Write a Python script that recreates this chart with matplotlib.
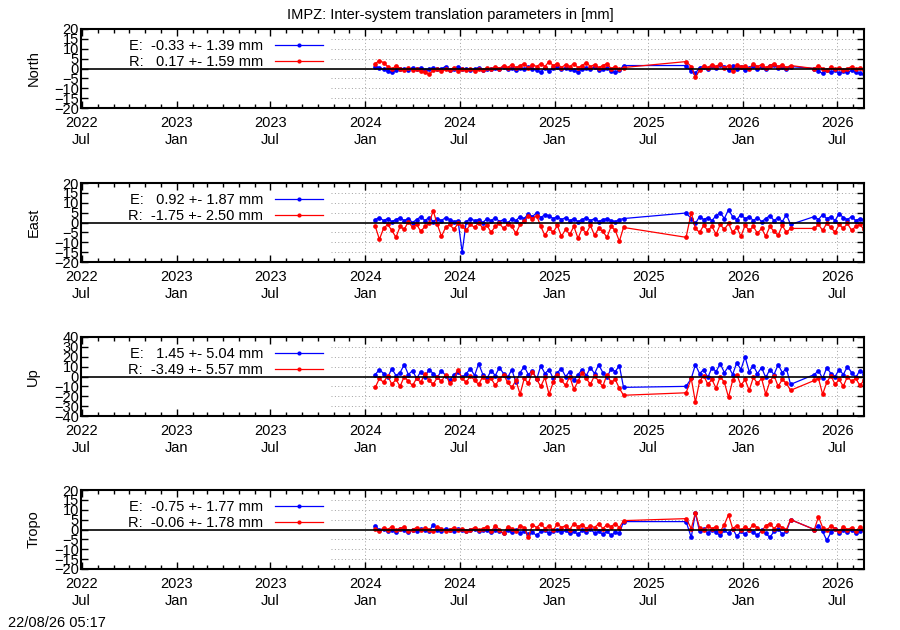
import numpy as np
import pandas as pd
import matplotlib
matplotlib.use("Agg")
import matplotlib.pyplot as plt
import matplotlib.dates as mdates

plt.rcParams['font.family'] = ['Liberation Sans', 'DejaVu Sans']
FS = 10.5

# epochs: three blocks of solutions (8-day sampling) plus one lone day in the gap
dates = np.concatenate([
    pd.date_range('2024-01-20', '2025-05-20', freq='8D').values,
    pd.to_datetime(['2025-09-12']).values,
    pd.date_range('2025-09-22', '2026-04-06', freq='8D').values,
    pd.date_range('2026-05-18', '2026-08-22', freq='8D').values,
])

panels = ['North', 'East', 'Up', 'Tropo']

# values in mm, E = Galileo, R = GLONASS
north_e = [1.0, 0.5, -0.5, -1.5, -2.0, -1.0, -0.5, 0.0, -1.0, 0.5,
           -0.5, 0.5, -1.0, -0.5, 0.5, -0.5, 0.0, 1.0, -1.0, 0.0,
           1.0, -0.5, 0.0, -1.0, -0.5, 0.5, -1.0, 0.0, -0.5, 0.5,
           0.0, 1.0, -0.5, 0.5, -1.0, 0.5, -0.5, 1.0, 0.0, -1.0,
           -2.0, 0.5, -1.5, 0.5, 1.0, -0.5, 0.5, 0.0, -1.0, -2.0,
           0.0, 0.5, -0.5, 1.0, -1.0, -0.5, 0.5, -1.5, -2.0, -1.0,
           1.5,
           1.5,
           -1.5, -2.5, 0.5, 1.0, -0.5, 1.5, 0.5, 2.0, 1.0, -1.0,
           1.5, 0.0, 1.0, -1.0, 0.5, 1.5, -0.5, 1.0, 0.0, 1.5,
           2.0, 0.5, 1.0, 0.0, 1.0,
           0.0, -1.5, -2.5, -1.0, -2.0, -1.0, -2.5, -1.5, -2.0, -1.0,
           -2.0, -2.5, -3.0]
north_r = [2.5, 4.0, 3.0, 1.0, -0.5, 1.5, 0.0, -1.0, 0.5, -1.0,
           0.0, -1.5, -2.0, -3.0, -1.0, 0.0, -1.5, -0.5, -1.0, 0.5,
           -1.5, -0.5, -1.0, 0.0, -1.5, -0.5, -1.0, 0.5, -0.5, 1.0,
           0.0, 1.5, 0.5, 2.0, 0.5, 1.5, 2.5, 0.5, 2.0, 1.0,
           2.5, 1.0, 3.5, 1.5, 2.5, 0.5, 2.0, 1.0, 2.5, 0.5,
           1.5, 3.0, 1.0, 2.0, 0.5, 1.5, 2.5, 0.0, 1.0, -0.5,
           0.5,
           3.5,
           1.0, -4.5, -1.0, 1.5, 0.5, 2.0, 1.0, 2.5, 0.5, 1.5,
           -1.5, 2.0, 1.0, 1.5, 0.0, 2.5, 1.0, 2.0, 0.5, 1.5,
           2.5, 1.0, 2.0, 0.5, 1.5,
           0.0, 1.5, 0.0, -1.0, 1.0, -0.5, 0.5, -1.0, 0.0, 1.0,
           -0.5, 0.5, -1.0]
east_e = [1.5, 2.5, 1.0, 2.0, 0.5, 1.5, 2.5, 1.0, 2.0, 0.0,
          1.5, 3.0, 1.0, 2.5, 0.5, 2.0, 1.0, 2.5, 1.5, 0.5,
          1.0, -15.0, 0.5, 2.0, 1.0, 1.5, 0.0, 2.0, 1.0, 2.5,
          0.5, 1.5, -0.5, 2.0, 1.0, 3.0, 2.0, 4.5, 3.0, 5.0,
          2.5, 4.0, 3.5, 2.0, 3.0, 1.5, 2.5, 1.0, 2.0, 0.5,
          1.5, 2.5, 1.0, 2.0, 0.5, 1.5, 2.0, 1.0, 0.5, 1.5,
          2.0,
          4.8,
          2.0, -0.5, 3.0, 1.5, 2.5, 1.0, 3.5, 5.0, 2.0, 6.5,
          3.0, 1.5, 4.0, 2.0, 3.0, 1.0, 2.5, 0.5, 2.0, 3.5,
          1.0, 2.5, 0.5, 4.0, -1.0,
          3.0, 1.5, 4.0, 2.0, 3.0, 1.0, 4.5, 2.5, 1.5, 3.0,
          1.0, 2.0, 1.5]
east_r = [-2.0, -8.5, -3.0, -1.0, -4.0, -7.5, -2.0, -3.5, 0.5, -2.5,
          -1.0, -4.5, -2.0, -0.5, 6.0, -1.0, -7.0, -2.5, -1.0, -3.5,
          -0.5, -2.0, -4.0, -1.0, -2.5, 0.0, -3.0, -1.5, -5.0, -2.0,
          -0.5, -3.0, -1.0, -2.0, -5.5, -1.0, 1.0, 3.5, 2.0, 3.5,
          -2.0, -6.5, -3.0, -5.0, -1.5, -7.0, -3.5, -6.0, -2.0, -8.0,
          -3.0, -5.5, -1.5, -6.5, -3.0, -4.5, -7.5, -2.0, -4.0, -9.5,
          -2.5,
          -7.5,
          5.0, -3.0, -5.0, -1.5, -4.0, -2.0, -6.0, -1.0, -3.5, -0.5,
          -5.0, -2.5, -7.0, -1.5, -4.0, -2.0, -5.5, -3.0, -7.0, -2.0,
          -4.5, -6.5, -1.5, -5.0, -3.0,
          -3.0, -1.0, -4.0, -0.5, -2.5, -5.0, -1.0, -3.0, -0.5, -4.0,
          -2.0, -1.0, -3.5]
up_e = [2.0, 7.0, 3.0, -1.0, 8.0, 1.0, 4.0, 12.0, 2.0, 6.0,
        -2.0, 5.0, 0.0, 7.0, 3.0, -1.0, 6.0, 1.0, -4.0, 2.0,
        5.0, -1.0, 3.0, 8.0, 1.0, 13.0, 2.0, -2.0, 6.0, 1.0,
        9.0, 3.0, -1.0, 7.0, -6.0, 4.0, 10.0, 2.0, 6.0, -3.0,
        11.0, 3.0, 7.0, -2.0, 4.0, 8.0, 0.0, 5.0, -4.0, 2.0,
        7.0, 1.0, 9.0, 3.0, 12.0, 4.0, -1.0, 8.0, 5.0, 11.0,
        -11.0,
        -10.0,
        -2.0, 12.0, 3.0, 7.0, -1.0, 9.0, 5.0, 13.0, 4.0, 10.0,
        2.0, 14.0, 7.0, 20.0, 5.0, 11.0, 3.0, 9.0, -1.0, 7.0,
        2.0, 12.0, 4.0, 8.0, -8.0,
        2.0, 6.0, -2.0, 9.0, 3.0, 0.0, 7.0, 2.0, 10.0, 4.0,
        -1.0, 6.0, 3.0]
up_r = [-11.0, -2.0, -6.0, 1.0, -8.0, -3.0, -10.0, 0.0, -5.0, -9.0,
        -2.0, -6.0, 3.0, -4.0, -8.0, -1.0, -5.0, 2.0, -7.0, -3.0,
        7.0, -2.0, -6.0, 1.0, -4.0, -8.0, 0.0, -5.0, -2.0, -9.0,
        -3.0, 2.0, -6.0, -11.0, -4.0, -18.0, -2.0, -7.0, 5.0, -3.0,
        -10.0, -1.0, -18.0, -6.0, 2.0, -4.0, -9.0, 0.0, -13.0, -5.0,
        4.0, -2.0, -8.0, 1.0, -5.0, -10.0, 2.0, -6.0, -3.0, -12.0,
        -19.0,
        -16.5,
        -2.0, -26.0, -5.0, 1.0, -8.0, -3.0, -12.0, 0.0, -6.0, -21.0,
        -4.0, 2.0, -9.0, -3.0, -14.0, -1.0, -7.0, -2.0, -18.0, -5.0,
        1.0, -10.0, -3.0, -7.0, -14.0,
        -4.0, -2.0, -18.0, -6.0, 1.0, -8.0, -3.0, -10.0, 0.0, -5.0,
        -2.0, -9.0, -4.0]
tropo_e = [2.0, -0.5, 0.5, -1.0, 0.0, -1.5, 0.5, -0.5, -1.5, 0.0,
           -1.0, 0.5, -0.5, -1.0, 2.5, 0.0, -1.0, 0.5, -0.5, -1.0,
           0.5, 0.0, -1.0, -0.5, 0.5, -1.0, 0.0, -0.5, -1.5, 0.0,
           -1.0, -2.0, -0.5, -1.5, -0.5, -2.0, -1.0, -2.5, -1.5, -3.0,
           -1.0, -0.5, -2.0, -1.0, 0.0, -1.5, -0.5, -2.0, -1.0, -2.5,
           -0.5, -1.5, 0.5, -2.0, -1.0, -2.5, -1.0, -3.0, -1.5, -2.0,
           4.0,
           4.0,
           -4.0, 8.5, -1.0, 0.5, -2.0, 0.0, -1.5, -3.0, -0.5, -2.0,
           0.5, -3.5, -1.0, -2.5, 0.0, -1.5, -3.0, -0.5, -2.0, -4.0,
           -1.0, 0.5, -2.5, -1.0, 5.0,
           0.0, 2.0, -1.0, -5.5, -1.5, 0.5, -2.0, -0.5, -1.5, 0.0,
           -2.0, -1.0, -0.5]
tropo_r = [0.5, -1.0, 1.0, 0.0, 1.5, -0.5, 0.5, 1.5, -1.0, 0.0,
           1.0, -0.5, 1.0, 0.0, -1.0, 1.5, 0.5, -1.0, 0.0, 1.0,
           -0.5, 0.5, -1.0, 0.0, 1.0, -0.5, 0.5, 1.5, -1.0, 2.0,
           0.0, -2.0, 1.5, 0.5, -1.0, 2.0, 1.0, -4.0, 2.5, 1.0,
           3.0, 0.5, 2.0, -0.5, 3.0, 1.0, 2.0, 0.0, 3.0, 1.5,
           2.5, 0.5, 2.0, 1.0, 3.0, 0.5, 2.5, 1.5, 3.0, 1.0,
           4.5,
           5.5,
           0.5, 8.5, 1.0, -0.5, 2.0, 0.5, 1.5, -1.0, 2.5, 7.5,
           0.5, 2.0, -0.5, 1.5, 0.0, 2.5, 1.0, -1.0, 2.0, 3.0,
           0.5, 2.5, 1.0, 0.0, 5.0,
           0.0, 6.5, 1.0, -0.5, 2.0, 0.5, -1.0, 1.5, 0.0, 1.0,
           -1.0, 1.5, -0.5]

series_e = [north_e, east_e, up_e, tropo_e]
series_r = [north_r, east_r, up_r, tropo_r]
labels_e = ['E:  -0.33 +- 1.39 mm', 'E:   0.92 +- 1.87 mm',
            'E:   1.45 +- 5.04 mm', 'E:  -0.75 +- 1.77 mm']
labels_r = ['R:   0.17 +- 1.59 mm', 'R:  -1.75 +- 2.50 mm',
            'R:  -3.49 +- 5.57 mm', 'R:  -0.06 +- 1.78 mm']
ylims = [20, 20, 40, 20]
ysteps = [5, 5, 10, 5]

xmin = pd.Timestamp('2022-06-30')
xmax = pd.Timestamp('2026-08-22')
grid_x0 = pd.Timestamp('2023-10-27')
grid_ticks = pd.to_datetime(['2024-01-01', '2024-07-01', '2025-01-01',
                             '2025-07-01', '2026-01-01', '2026-07-01'])

fig = plt.figure(figsize=(9, 6.3), dpi=100)
tops = [29, 183, 337, 490]
for k in range(4):
    ax = fig.add_axes([81 / 900, 1 - (tops[k] + 79) / 630, 783 / 900, 79 / 630])
    lim = ylims[k]
    yt = np.arange(-lim, lim + 1, ysteps[k])
    inner = [v for v in yt if v != 0 and abs(v) != lim]
    ax.hlines(inner, grid_x0, xmax, colors='#a0a0a0', linestyles=(0, (1, 2.5)),
              lw=0.7, zorder=1)
    ax.vlines(grid_ticks, -lim, lim, colors='#a0a0a0', linestyles=(0, (1, 2.5)),
              lw=0.7, zorder=1)

    ax.plot(dates, series_e[k], '-o', color='blue', lw=0.9, ms=3.4,
            mec='none', label=labels_e[k], zorder=2)
    ax.plot(dates, series_r[k], '-o', color='red', lw=0.9, ms=3.4,
            mec='none', label=labels_r[k], zorder=2.1)
    ax.axhline(0, color='black', lw=1.2, zorder=3)

    ax.set_xlim(xmin, xmax)
    ax.set_ylim(-lim, lim)
    ax.set_yticks(yt)
    ax.xaxis.set_major_locator(mdates.MonthLocator(bymonth=[1, 7]))
    ax.xaxis.set_minor_locator(mdates.MonthLocator())
    ax.xaxis.set_major_formatter(mdates.DateFormatter('%Y\n%b'))
    ax.tick_params(which='both', direction='in', top=True, right=True,
                   labelsize=FS, width=1.0)
    ax.tick_params(which='major', length=5)
    ax.tick_params(which='minor', length=3)
    ax.tick_params(axis='x', pad=6)
    ax.tick_params(axis='y', pad=1.5)
    for s in ax.spines.values():
        s.set_linewidth(1.5)

    ax.set_ylabel(panels[k], fontsize=FS)
    ax.yaxis.set_label_coords(-0.052, 0.5)

    leg = ax.legend(loc='upper right', bbox_to_anchor=(0.309, 0.87),
                    frameon=False, markerfirst=False, numpoints=1, fontsize=FS,
                    handlelength=3.3, handletextpad=0.8, labelspacing=0.15,
                    borderpad=0, borderaxespad=0)
    for h in leg.get_lines():
        h.set_markersize(3.0)

fig.text(0.5, 1 - 15 / 630, 'IMPZ: Inter-system translation parameters in [mm]',
         ha='center', va='center', fontsize=FS)
fig.text(8 / 900, 1 - 623 / 630, '22/08/26 05:17', ha='left', va='center',
         fontsize=FS)

fig.savefig('out.png', dpi=100)
plt.close()
